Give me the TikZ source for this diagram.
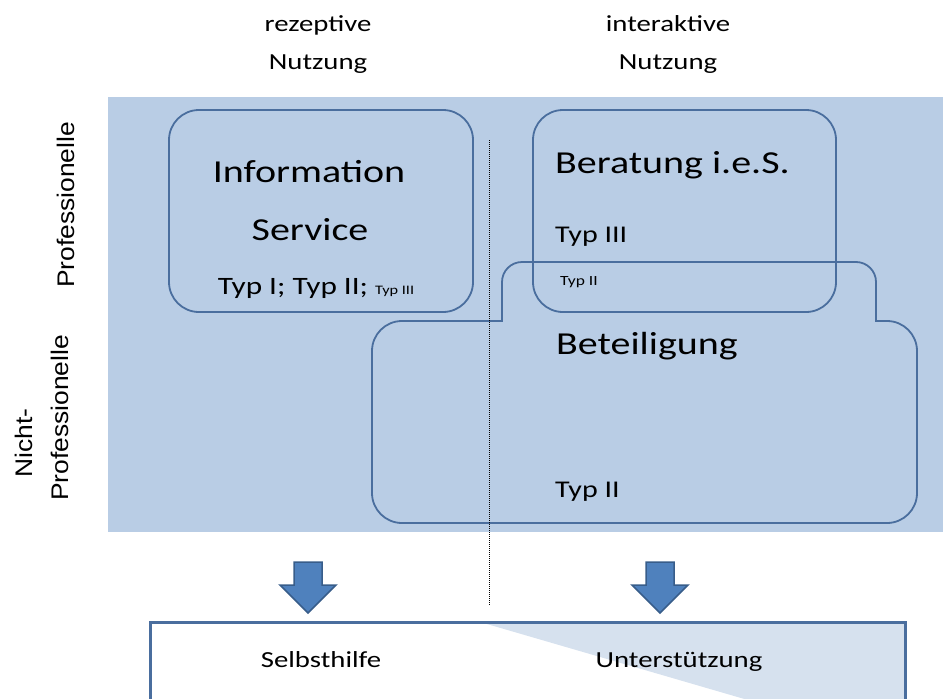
\documentclass[tikz,border=0pt]{standalone}
\usepackage{fontspec}
\setmainfont{Carlito}[FakeStretch=1.25]
\newfontfamily\arialf{Liberation Sans}[FakeStretch=1.1]
\definecolor{bgblue}{HTML}{B9CDE5}
\definecolor{lineblue}{HTML}{4A6E9E}
\definecolor{arrowfill}{HTML}{4F81BD}
\definecolor{arrowline}{HTML}{385D8A}
\definecolor{shadeblue}{HTML}{D6E1EE}
\newcommand{\fsz}[1]{\fontsize{#1}{#1}\selectfont}
\begin{document}
\begin{tikzpicture}[x=1pt,y=-1pt,
  boxline/.style={draw=lineblue, line width=1.8pt},
  blockarrow/.style={fill=arrowfill, draw=arrowline, line width=1.5pt, line join=miter},
  txt/.style={inner sep=0pt, text=black},
  side/.style={inner sep=0pt, rotate=90, font=\arialf\fsz{24}}]
\useasboundingbox (0,0) rectangle (943,699);
% background
\fill[bgblue] (108,97) rectangle (943,532);
% boxes
\draw[boxline, rounded corners=30pt] (169,110) rectangle (473,312);
\draw[boxline, rounded corners=30pt] (533,110) rectangle (836,312);
\draw[boxline, line cap=rect, rounded corners=20pt] (502,321) -- (502,262) -- (876,262) -- (876,321);
\draw[boxline, line cap=rect, rounded corners=30pt] (876,321) -- (917,321) -- (917,523) -- (372,523) -- (372,321) -- (502,321);
% dotted divider
\coordinate (dtop) at (489,140);
\coordinate (dbot) at (489,605);
\draw[black, dash pattern=on 1pt off 1pt, line width=1pt] (dtop) -- (dbot);
% column headers
\node[txt, anchor=base, font=\fsz{23}] (rez) at (318,31) {rezeptive};
\node[txt, anchor=base, font=\fsz{23}] (rezN) at (318,69) {Nutzung};
\node[txt, anchor=base, font=\fsz{23}] (int) at (668,31) {interaktive};
\node[txt, anchor=base, font=\fsz{23}] (intN) at (668,69) {Nutzung};
% row labels
\node[side] (prof) at (66,205) {Professionelle};
\node[side] (nicht) at (24,443) {Nicht-};
\node[side] (nprof) at (60,418) {Professionelle};
% information service
\node[txt, anchor=base, font=\fsz{32}] (info) at (309,182) {Information};
\node[txt, anchor=base, font=\fsz{32}] (serv) at (310,240) {Service};
\node[txt, anchor=base, font=\fsz{25}] (typinfo) at (316,294) {Typ I; Typ II; {\fsz{13}Typ III}};
% beratung
\node[txt, anchor=base west, font=\fsz{32}] (ber) at (555,173) {Beratung i.e.S.};
\node[txt, anchor=base west, font=\fsz{24}] (bertyp) at (555,242) {Typ III};
\node[txt, anchor=base west, font=\fsz{14}] (tabtyp) at (560,285) {Typ II};
% beteiligung
\node[txt, anchor=base west, font=\fsz{32}] (bet) at (556,354) {Beteiligung};
\node[txt, anchor=base west, font=\fsz{24}] (bettyp) at (555,497) {Typ II};
% arrows
\draw[blockarrow] (294,562) -- (322,562) -- (322,585) -- (336,585) -- (308,613) -- (280,585) -- (294,585) -- cycle;
\draw[blockarrow] (646,562) -- (674,562) -- (674,585) -- (688,585) -- (660,613) -- (632,585) -- (646,585) -- cycle;
% bottom box
\fill[shadeblue] (480,622) -- (905,622) -- (905,705) -- (765,705) -- cycle;
\draw[draw=lineblue, line width=3pt] (150,710) -- (150,622) -- (905,622) -- (905,710);
\node[txt, anchor=base, font=\fsz{23}] (selbst) at (321,667) {Selbsthilfe};
\node[txt, anchor=base, font=\fsz{23}] (unter) at (679,667) {Unterstützung};
\end{tikzpicture}
\end{document}
